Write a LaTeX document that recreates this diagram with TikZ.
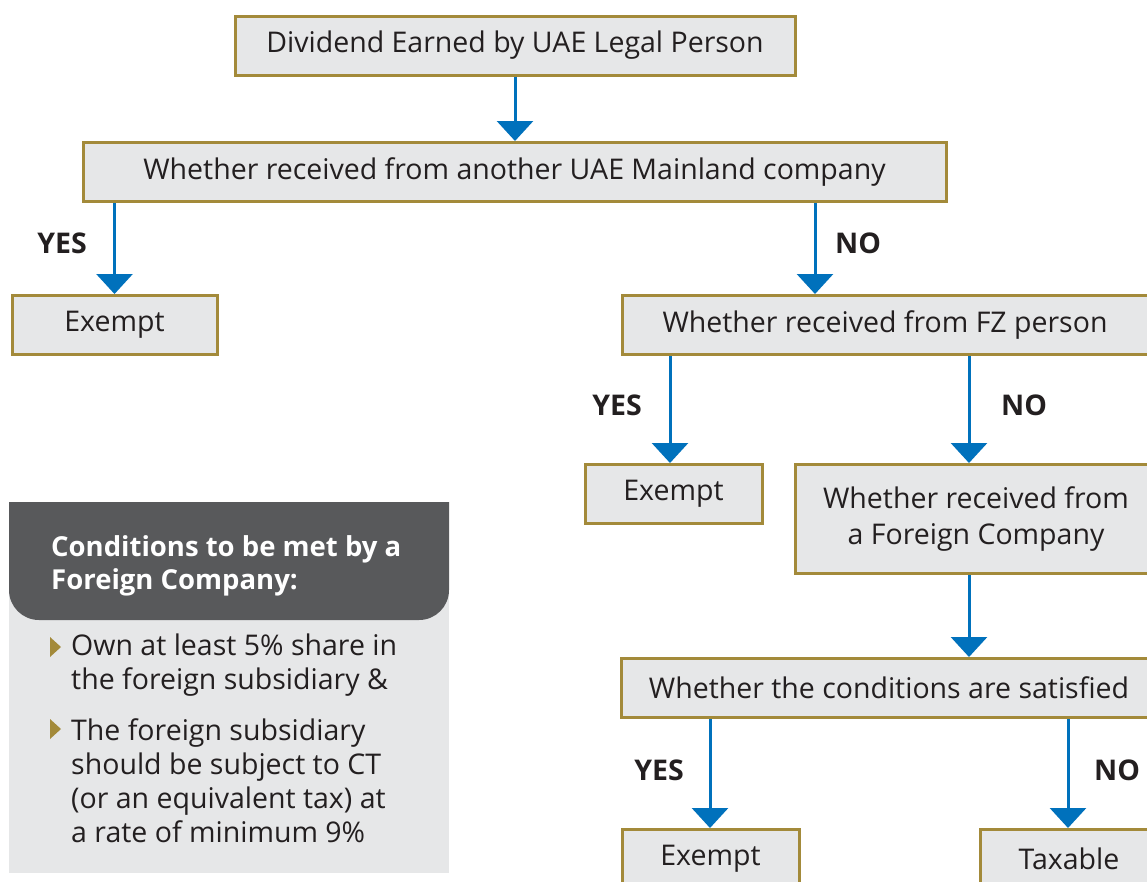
\documentclass[tikz,border=0pt]{standalone}
\usepackage{fontspec}
\setmainfont{Open Sans}
\usetikzlibrary{arrows.meta}
\definecolor{gold}{HTML}{A38A3A}
\definecolor{boxfill}{HTML}{E6E7E8}
\definecolor{arrowblue}{HTML}{0071BC}
\definecolor{darkhead}{HTML}{58595B}
\definecolor{txt}{HTML}{231F20}
\begin{document}
\begin{tikzpicture}[x=1pt,y=-1pt,
  box/.style={draw=gold, fill=boxfill, line width=3pt, text=txt,
    font=\fontsize{28.5}{36}\selectfont, inner sep=0pt, minimum height=59pt, align=center},
  flow/.style={draw=arrowblue, line width=3pt, -{Triangle[width=36pt,length=20pt]}},
  yn/.style={font=\bfseries\fontsize{28.5}{30}\selectfont, text=txt, inner sep=0pt},
  bodytext/.style={font=\fontsize{28.5}{34}\selectfont, text=txt, align=flush left, inner sep=0pt},
  headtext/.style={font=\bfseries\fontsize{27.5}{33}\selectfont, text=white, align=flush left, inner sep=0pt},
  bullet/.style={fill=gold}]
\clip (0,0) rectangle (1147,881);
\fill[white] (0,0) rectangle (1147,881);

% column coordinates
\coordinate (cNo1) at (815,0);
\coordinate (cYes2) at (670,0);
\coordinate (cNo2) at (969,0);
\coordinate (cYes3) at (710,0);
\coordinate (cNo3) at (1068,0);

% boxes
\node[box, minimum width=560pt] (top) at (515,45.5) {Dividend Earned by UAE Legal Person};
\node[box, minimum width=863pt] (main) at (514.5,172) {Whether received from another UAE Mainland company};
\node[box, minimum width=205pt] (ex1) at (114.5,325) {Exempt};
\node[box, anchor=west, align=flush left, text width=520pt, inner xsep=40pt] (fz) at (621,325) {Whether received from FZ person};
\node[box, minimum width=177pt] (ex2) at (673.5,494) {Exempt};
\node[box, minimum width=362pt, minimum height=109pt] (foreign) at (976,519) {Whether received from\\a Foreign Company};
\node[box, minimum width=536pt] (cond) at (889,688) {Whether the conditions are satisfied};
\node[box, minimum width=177pt] (ex3) at (710.5,859) {Exempt};
\node[box, minimum width=178pt] (tax) at (1069,859) {Taxable};

% connectors
\draw[flow] (top.south) -- (top.south |- main.north);
\draw[flow] (main.south -| ex1.north) -- (ex1.north);
\draw[flow] (main.south -| cNo1) -- (fz.north -| cNo1);
\draw[flow] (fz.south -| cYes2) -- (ex2.north -| cYes2);
\draw[flow] (fz.south -| cNo2) -- (foreign.north -| cNo2);
\draw[flow] (foreign.south -| cNo2) -- (cond.north -| cNo2);
\draw[flow] (cond.south -| cYes3) -- (ex3.north -| cYes3);
\draw[flow] (cond.south -| cNo3) -- (tax.north -| cNo3);

% labels
\node[yn] (l1) at (62,243) {YES};
\node[yn] (l2) at (858,243) {NO};
\node[yn] (l3) at (617,405) {YES};
\node[yn] (l4) at (1024,405) {NO};
\node[yn] (l5) at (659,770) {YES};
\node[yn] (l6) at (1117,770) {NO};

% conditions panel
\fill[boxfill] (9,502) rectangle (449,873);
\begin{scope}
  \clip (9,502) rectangle (449,621);
  \fill[darkhead, rounded corners=30pt] (9,440) rectangle (449,620);
\end{scope}
\node[headtext, anchor=west] (head) at (51,566) {Conditions to be met by a\\Foreign Company:};
\fill[bullet] (50,637) -- (61,647) -- (50,657) -- cycle;
\fill[bullet] (50,719) -- (61,729) -- (50,739) -- cycle;
\node[bodytext, anchor=west] (b1) at (71,665) {Own at least 5\% share in\\the foreign subsidiary \&};
\node[bodytext, anchor=west] (b2) at (71,781) {The foreign subsidiary\\should be subject to CT\\(or an equivalent tax) at\\a rate of minimum 9\%};
\end{tikzpicture}
\end{document}
